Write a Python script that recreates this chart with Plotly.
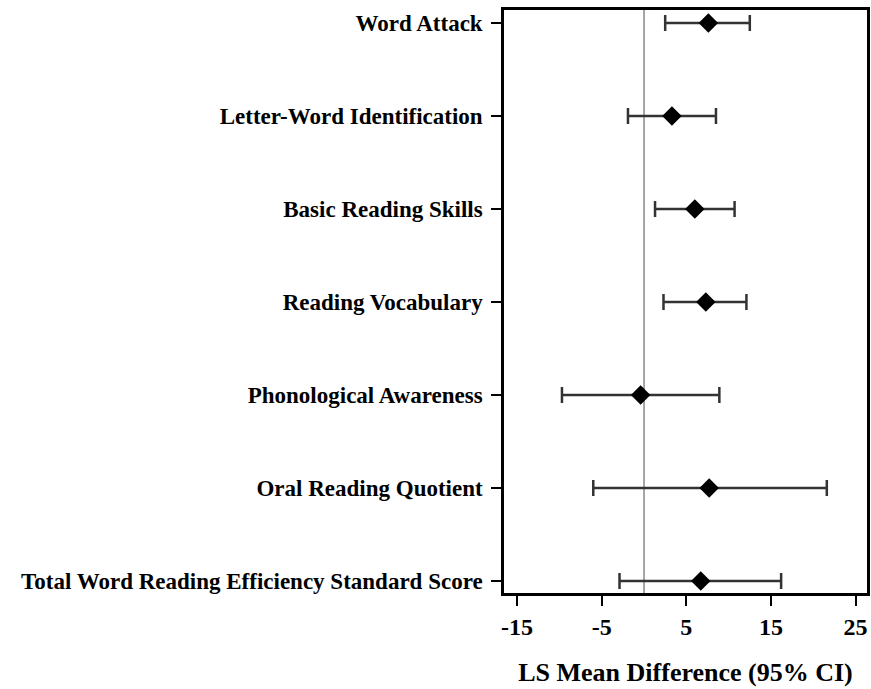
import plotly.graph_objects as go

categories = [
    "Word Attack",
    "Letter-Word Identification",
    "Basic Reading Skills",
    "Reading Vocabulary",
    "Phonological Awareness",
    "Oral Reading Quotient",
    "Total Word Reading Efficiency Standard Score",
]
means = [7.6, 3.3, 6.0, 7.3, -0.4, 7.7, 6.7]
ci_low = [2.5, -1.9, 1.3, 2.3, -9.7, -6.0, -2.9]
ci_high = [12.5, 8.5, 10.7, 12.1, 8.9, 21.6, 16.2]
x_ticks = [-15, -5, 5, 15, 25]

err_plus = [h - m for h, m in zip(ci_high, means)]
err_minus = [m - l for m, l in zip(means, ci_low)]

font_family = "Liberation Serif, Times New Roman, serif"

fig = go.Figure()
fig.add_trace(go.Scatter(
    x=means,
    y=categories,
    mode="markers",
    marker=dict(symbol="diamond", size=15, color="black"),
    error_x=dict(type="data", symmetric=False, array=err_plus, arrayminus=err_minus,
                 color="#333333", thickness=2.5, width=8),
    showlegend=False,
))

fig.add_shape(type="line", xref="x", yref="paper", x0=0, x1=0, y0=0, y1=1,
              line=dict(color="#888888", width=1.5), layer="below")

fig.update_layout(
    width=871, height=689,
    margin=dict(l=504, r=1, t=10, b=96),
    paper_bgcolor="white", plot_bgcolor="white",
    font=dict(family=font_family, color="black", size=23, weight="bold"),
)
fig.update_xaxes(
    range=[-16.55, 26.35], tickvals=x_ticks, ticktext=[str(v) for v in x_ticks],
    showgrid=False, zeroline=False,
    showline=True, linecolor="black", linewidth=2.5, mirror=True,
    ticks="outside", ticklen=10, tickwidth=2, tickcolor="black",
    tickfont=dict(size=24, family=font_family, weight="bold"),
    title=dict(text="LS Mean Difference (95% CI)",
               font=dict(size=26, family=font_family, weight="bold"), standoff=25),
)
fig.update_yaxes(
    categoryorder="array", categoryarray=categories,
    range=[6.13, -0.14],
    showgrid=False, zeroline=False,
    showline=True, linecolor="black", linewidth=2.5, mirror=True,
    ticks="outside", ticklen=10, tickwidth=2, tickcolor="black",
    ticklabelstandoff=4,
    tickfont=dict(size=23, family=font_family, weight="bold"),
)

fig.write_html("out.html", config={"displayModeBar": False},
               post_script="document.body.style.margin='0';document.body.style.overflow='hidden';")
